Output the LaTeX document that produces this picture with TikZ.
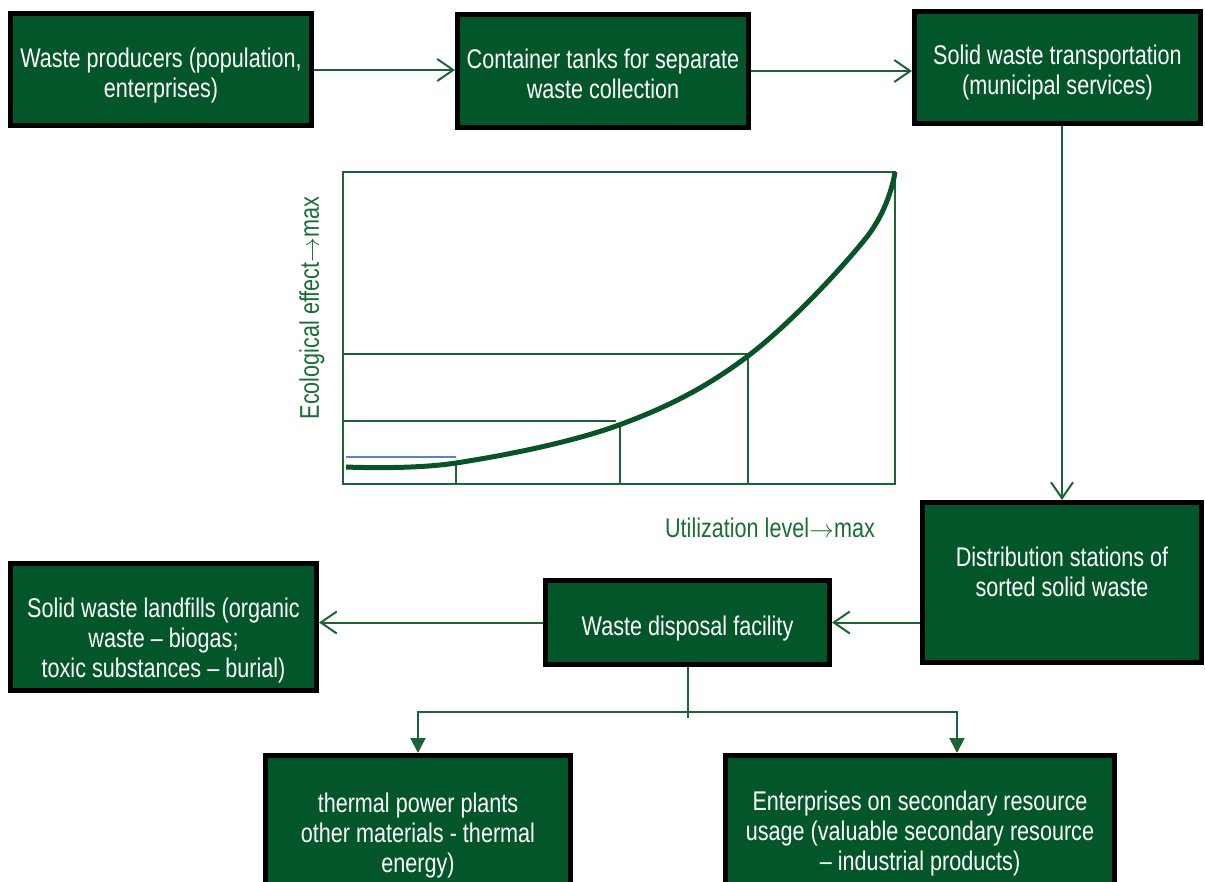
\documentclass[tikz,border=0pt]{standalone}
\usepackage{amsmath}
\usepackage{fontspec}
\setmainfont{Liberation Sans}[FakeStretch=0.8]
\usetikzlibrary{arrows.meta, positioning, calc}

\definecolor{boxgreen}{RGB}{3,86,42}
\definecolor{linegreen}{RGB}{28,100,54}
\definecolor{curvegreen}{RGB}{8,84,40}
\definecolor{labelgreen}{RGB}{24,110,52}
\definecolor{levelblue}{RGB}{88,132,200}

% 文字行的支撑
\newcommand{\toprow}[1][31pt]{\rule{0pt}{#1}}
\newcommand{\lowrow}[1][6pt]{\rule[-#1]{0pt}{#1}}

\tikzset{
  wastebox/.style={draw=black, line width=5pt, fill=boxgreen, text=white,
    align=center, inner sep=0pt, font=\fontsize{27}{30}\selectfont},
  flow/.style={draw=linegreen, line width=2pt, -{Straight Barb[length=16pt,width=22pt]}},
  feed/.style={draw=linegreen, line width=2pt, -{Triangle[length=15pt,width=15pt]}},
  gridline/.style={draw=linegreen, line width=2pt},
  axislabel/.style={text=labelgreen, inner sep=0pt, font=\fontsize{27}{30}\selectfont}
}

\begin{document}
\begin{tikzpicture}[x=1pt, y=-1pt]
    \useasboundingbox (0,0) rectangle (1205,882);
    \clip (0,0) rectangle (1205,882);

    % 上排方框
    \node[wastebox, minimum width=301pt, minimum height=112pt] (producers) at (161,70)
      {\toprow Waste producers (population,\\enterprises)\lowrow};
    \node[wastebox, minimum width=291pt, minimum height=113pt] (containers) at (603,71)
      {\toprow Container tanks for separate\\waste collection\lowrow};
    \node[wastebox, minimum width=286pt, minimum height=112pt] (transport) at (1057.5,67.5)
      {\toprow Solid waste transportation\\(municipal services)\lowrow};

    % 中间与下排方框
    \node[wastebox, minimum width=279pt, minimum height=160pt] (stations) at (1062,582.5)
      {\toprow Distribution stations of\\sorted solid waste\lowrow[33pt]};
    \node[wastebox, minimum width=284pt, minimum height=84pt] (disposal) at (687.5,622.5)
      {\toprow Waste disposal facility\lowrow};
    \node[wastebox, minimum width=306pt, minimum height=127pt] (landfills) at (163.5,627)
      {\toprow[47pt]Solid waste landfills (organic\\waste -- biogas;\\toxic substances -- burial)\lowrow};
    \node[wastebox, minimum width=305pt, minimum height=149pt] (thermal) at (418,830)
      {\toprow thermal power plants\\other materials - thermal\\energy)\lowrow};
    \node[wastebox, minimum width=389pt, minimum height=145pt] (enterprises) at (920,828)
      {\toprow Enterprises on secondary resource\\usage (valuable secondary resource\\-- industrial products)\lowrow};

    % 连接箭头
    \draw[flow] (producers.east) -- (producers.east -| containers.west);
    \draw[flow] (containers.east) -- (containers.east -| transport.west);
    \draw[flow] (transport.south -| stations.north) -- (stations.north);
    \draw[flow] (stations.west |- disposal.east) -- (disposal.east);
    \draw[flow] (disposal.west) -- (disposal.west -| landfills.east);

    % 分支
    \coordinate (split) at (687.5,712);
    \coordinate (right branch) at (957,712);
    \draw[gridline] (disposal.south) -- ++(0,51);
    \draw[feed] (split) -| (thermal.north);
    \draw[feed] (split) -- (right branch) -- (right branch |- enterprises.north);

    % 曲线图
    \draw[gridline] (343,172) rectangle (895,484);
    \draw[gridline] (343,354) -| (748,484);
    \draw[gridline] (343,421) -- (616,421);
    \draw[gridline] (620,425) -- (620,484);
    \draw[gridline] (456,462) -- (456,484);
    \draw[levelblue, line width=2pt] (346,457) -- (456,457);
    \draw[curvegreen, line width=5pt] plot[smooth, tension=0.6] coordinates
      {(346,467) (456,463) (619,425) (748,356) (866,238) (895,172)};

    % 坐标轴标注
    \node[axislabel, rotate=90] (effect) at (312,308) {Ecological effect$\rightarrow$max};
    \node[axislabel] (level) at (770,528) {Utilization level$\rightarrow$max};
\end{tikzpicture}
\end{document}
